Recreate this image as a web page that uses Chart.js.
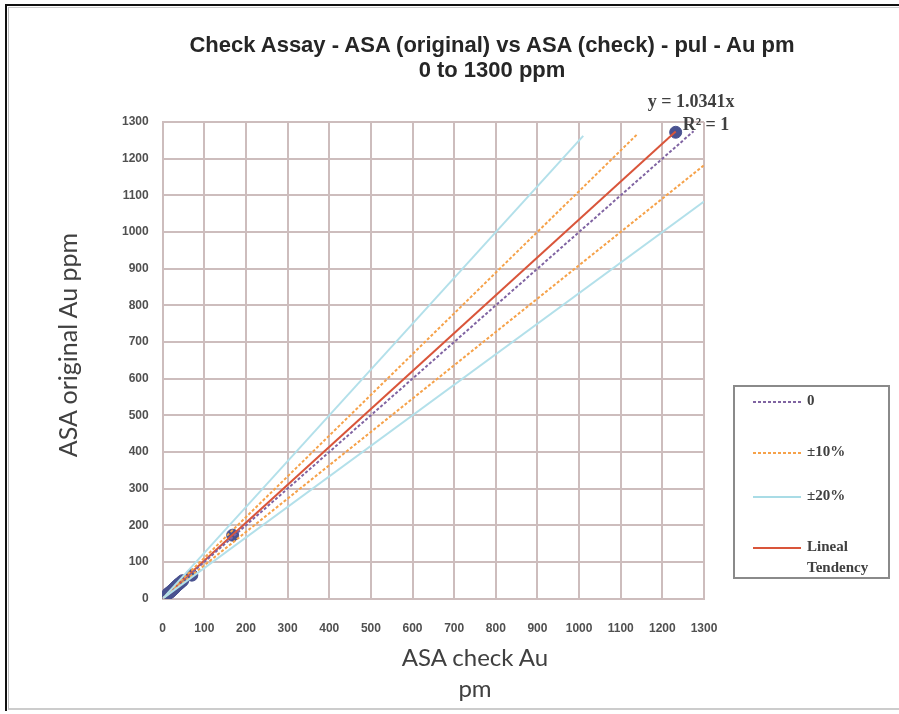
<!DOCTYPE html>
<html>
<head>
<meta charset="utf-8">
<script src="https://cdn.jsdelivr.net/npm/chart.js@4"></script>
<style>
  html, body { margin: 0; padding: 0; background: #fff; }
  #wrap { position: relative; width: 899px; height: 714px; overflow: hidden; }
  #frame { position: absolute; left: 5px; top: 4px; right: -4px; bottom: 3px;
           border-left: 2px solid #111; border-top: 2px solid #111; }
  #frame2 { position: absolute; left: 8px; top: 7px; right: -4px; bottom: 4px;
            border-left: 1px solid #bbb; border-top: 1px solid #ccc; border-bottom: 2px solid #ccc; }
  #chart { position: absolute; left: 0; top: 0; }
  #title { position: absolute; left: 0; width: 984px; top: 32px; text-align: center;
           font: bold 22px "Liberation Sans", Arial, sans-serif; color: #262626; line-height: 25px; }
  #xtitle { position: absolute; left: 275px; width: 400px; top: 641px; text-align: center;
            font: 24px Lato, sans-serif; color: #404040; line-height: 31px; }
  #ytitle { position: absolute; left: -133px; width: 400px; top: 330px; text-align: center;
            font: 25px Lato, sans-serif; color: #404040; line-height: 30px; transform: rotate(-90deg); }
  #legend { position: absolute; left: 733px; top: 385px; width: 153px; height: 190px;
            border: 2px solid #8a8a8a; font: bold 15px "Liberation Serif", serif; color: #404040; }
  .row { position: absolute; left: 18px; }
  .row svg { position: absolute; left: 0; top: 0; }
  .row span { position: absolute; left: 54px; top: -10px; white-space: nowrap; line-height: 21px; }
</style>
</head>
<body>
<div id="wrap">
  <div id="frame"></div>
  <div id="frame2"></div>
  <canvas id="chart" width="899" height="714"></canvas>
  <div id="title">Check Assay - ASA (original) vs ASA (check) - pul - Au pm<br>0 to 1300 ppm</div>
  <div id="xtitle">ASA check Au<br>pm</div>
  <div id="ytitle">ASA original Au ppm</div>
  <div id="legend">
    <div class="row" style="top:13px"><svg width="50" height="4"><line x1="0" y1="2" x2="48" y2="2" stroke="#8064a2" stroke-width="2" stroke-dasharray="3,2"/></svg><span>0</span></div>
    <div class="row" style="top:64px"><svg width="50" height="4"><line x1="0" y1="2" x2="48" y2="2" stroke="#f6a24a" stroke-width="2" stroke-dasharray="3,2"/></svg><span>±10%</span></div>
    <div class="row" style="top:108px"><svg width="50" height="4"><line x1="0" y1="2" x2="48" y2="2" stroke="#a9dce6" stroke-width="2"/></svg><span>±20%</span></div>
    <div class="row" style="top:159px"><svg width="50" height="4"><line x1="0" y1="2" x2="48" y2="2" stroke="#d9553a" stroke-width="2"/></svg><span>Lineal<br>Tendency</span></div>
  </div>
</div>
<script>
// assay pairs: check (x) vs original (y), ppm
const checkAu = [1, 3, 5, 7, 9, 11, 13, 15, 17, 19, 21, 23, 25, 27, 29, 31, 34, 37, 40, 44, 48, 70, 168, 1232];
const origAu  = [1, 3, 5, 7, 9, 11, 13, 15, 17, 19, 21, 23, 25, 27, 29, 32, 35, 38, 41, 45, 49, 64, 173, 1272];

// reference lines (end points)
const zeroX = [0, 1275],  zeroY = [0, 1275];
const up10X = [0, 1140],  up10Y = [0, 1267];
const dn10X = [0, 1300],  dn10Y = [0, 1182];
const up20X = [0, 1010],  up20Y = [0, 1262];
const dn20X = [0, 1300],  dn20Y = [0, 1083];
const trendX = [0, 1232], trendY = [0, 1274];
const slope = 1.0341;

const tickValues = [0, 100, 200, 300, 400, 500, 600, 700, 800, 900, 1000, 1100, 1200, 1300];

function pts(xs, ys) { return xs.map((x, i) => ({ x: x, y: ys[i] })); }
function lineSet(xs, ys, color, dash) {
  return { type: "line", data: pts(xs, ys), borderColor: color, borderWidth: 2,
           borderDash: dash, pointRadius: 0, fill: false, tension: 0 };
}

const eqLabel = {
  id: "eqLabel",
  afterDatasetsDraw(chart) {
    const c = chart.ctx, xs = chart.scales.x, ys = chart.scales.y;
    const px = xs.getPixelForValue(checkAu[checkAu.length - 1]);
    const py = ys.getPixelForValue(origAu[origAu.length - 1]);
    c.save();
    c.fillStyle = "#404040";
    c.font = "bold 18px 'Liberation Serif', serif";
    c.textAlign = "left";
    c.fillText("y = " + slope + "x", px - 28, py - 25);
    c.fillText("R² = 1", px + 7, py - 2);
    c.restore();
  }
};

const tickFont = { family: "Liberation Sans", size: 12, weight: "bold" };

new Chart(document.getElementById("chart"), {
  type: "scatter",
  data: {
    datasets: [
      lineSet(up20X, up20Y, "#b3e0ea", []),
      lineSet(dn20X, dn20Y, "#b3e0ea", []),
      lineSet(up10X, up10Y, "#f6a24a", [3, 2]),
      lineSet(dn10X, dn10Y, "#f6a24a", [3, 2]),
      lineSet(zeroX, zeroY, "#8064a2", [3, 2]),
      lineSet(trendX, trendY, "#d9553a", []),
      { type: "scatter", data: pts(checkAu, origAu), backgroundColor: "#4a5290",
        borderColor: "#4a5290", pointRadius: 6, pointStyle: "circle" }
    ]
  },
  options: {
    responsive: false,
    animation: false,
    layout: { padding: { left: 108, right: 195, top: 122, bottom: 55 } },
    plugins: { legend: { display: false }, tooltip: { enabled: false } },
    scales: {
      x: {
        type: "linear", min: 0, max: 1300,
        afterBuildTicks: s => { s.ticks = tickValues.map(v => ({ value: v })); },
        grid: { color: "#cdbdbd", lineWidth: 2, drawTicks: false },
        border: { color: "#cdbdbd", width: 2 },
        ticks: { color: "#505050", font: tickFont, padding: 23, maxRotation: 0, autoSkip: false,
                 callback: v => String(v) }
      },
      y: {
        type: "linear", min: 0, max: 1300,
        afterBuildTicks: s => { s.ticks = tickValues.map(v => ({ value: v })); },
        grid: { color: "#cdbdbd", lineWidth: 2, drawTicks: false },
        border: { color: "#cdbdbd", width: 2 },
        ticks: { color: "#505050", font: tickFont, padding: 14, autoSkip: false,
                 callback: v => String(v) }
      }
    }
  },
  plugins: [eqLabel]
});
</script>
</body>
</html>
